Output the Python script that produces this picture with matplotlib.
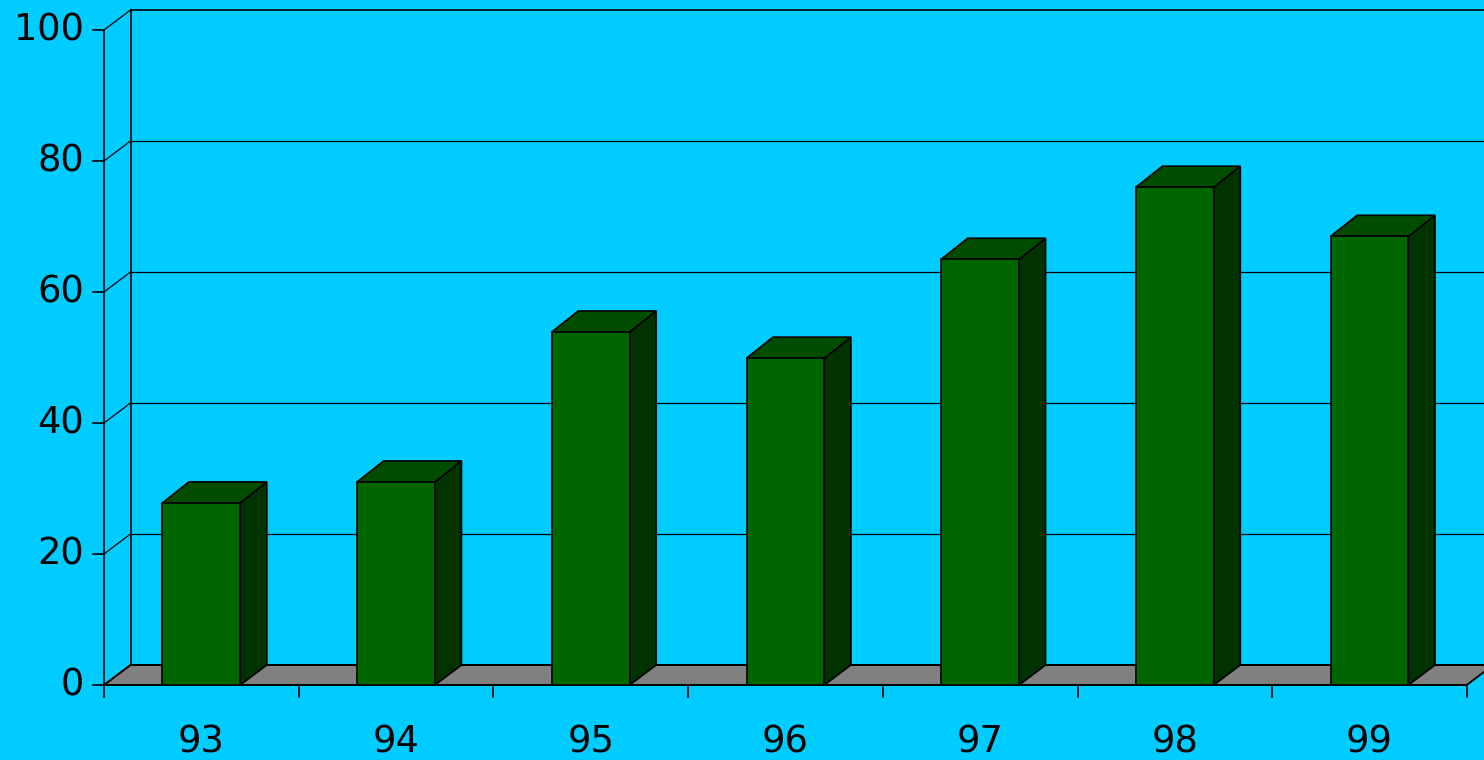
import matplotlib
matplotlib.use("Agg")
import matplotlib.pyplot as plt
from matplotlib.patches import Polygon
import numpy as np

# data
years = ["93", "94", "95", "96", "97", "98", "99"]
values = [27.8, 31.0, 53.9, 49.9, 65.0, 76.0, 68.5]
yticks = [0, 20, 40, 60, 80, 100]

BG = "#00CCFF"
FRONT = "#006600"
SIDE = "#003300"
TOP = "#004D00"
FLOOR = "#808080"

# pixel geometry of the reference (1484x760)
W, H = 1484, 760
x0_px, step_px = 104.0, 194.7      # left edge of axis, width of one category
y0_px, unit_px = 685.0, 6.55       # pixel of value 0, pixels per unit
dx = 26.5 / step_px                # 3d depth in category units
dy = 20.0 / unit_px                # 3d depth in value units
bdy = 21.0 / unit_px               # depth of bar tops
bw = 0.2                           # half width of bar

fig = plt.figure(figsize=(W / 100, H / 100), dpi=100)
fig.patch.set_facecolor(BG)
ax = fig.add_axes([0, 0, 1, 1])
ax.set_facecolor(BG)
ax.axis("off")
# category i is centred at x = i, value v at y = v
ax.set_xlim((0 - x0_px) / step_px - 0.5, (W - x0_px) / step_px - 0.5)
ax.set_ylim((y0_px - H) / unit_px, y0_px / unit_px)

n = len(years)
xl, xr = -0.5, n - 0.5
xr_far = xr + 2  # back wall runs off the right edge

lw = 1.2
# floor
ax.add_patch(Polygon([(xl, 0), (xl + dx, dy), (xr_far, dy), (xr_far, dy), (xr + dx, dy), (xr, 0)],
                     closed=True, facecolor=FLOOR, edgecolor="black", lw=lw, zorder=1))
ax.add_patch(Polygon([(xr, 0), (xr + dx, dy), (xr_far, dy), (xr_far, 0)],
                     closed=True, facecolor=FLOOR, edgecolor="none", zorder=1))
ax.add_patch(Polygon([(xr, 0), (xr + dx, dy), (xr_far, dy + 0.001), (xr_far, -5), (xr, -5)],
                     closed=True, facecolor=BG, edgecolor="none", zorder=1.1))
ax.plot([xl, xr], [0, 0], color="black", lw=lw, zorder=2)
ax.plot([xr, xr + dx], [0, dy], color="black", lw=lw, zorder=2)
ax.plot([xl, xl + dx], [0, dy], color="black", lw=lw, zorder=2)

# back wall, side wall and gridlines
ax.plot([xl + dx, xl + dx], [dy, 100 + dy], color="black", lw=lw, zorder=2)
for t in yticks:
    ax.plot([xl + dx, xr_far], [t + dy, t + dy], color="black", lw=0.9 if 0 < t < 100 else lw, zorder=2)
    ax.plot([xl, xl + dx], [t, t + dy], color="black", lw=0.9, zorder=2)

# front y axis with ticks and labels
ax.plot([xl, xl], [0, 100], color="black", lw=lw, zorder=2)
tick_x = 11 / step_px
for t in yticks:
    ax.plot([xl - tick_x, xl], [t, t], color="black", lw=lw, zorder=2)
    ax.text(xl - 20 / step_px, t, str(t), ha="right", va="center",
            fontsize=26.5, color="black", family="DejaVu Sans")

# x ticks and labels
for b in np.arange(xl, xr + 0.01, 1.0):
    ax.plot([b, b], [0, -12 / unit_px], color="black", lw=lw, zorder=2)
for i, lab in enumerate(years):
    ax.text(i, -57 / unit_px, lab, ha="center", va="center",
            fontsize=26.5, color="black", family="DejaVu Sans")

# 3d bars
for i, v in enumerate(values):
    l, r = i - bw, i + bw
    ax.add_patch(Polygon([(r, 0), (r + dx, dy), (r + dx, v + bdy), (r, v)],
                         closed=True, facecolor=SIDE, edgecolor="black", lw=lw, zorder=3))
    ax.add_patch(Polygon([(l, v), (r, v), (r + dx, v + bdy), (l + dx, v + bdy)],
                         closed=True, facecolor=TOP, edgecolor="black", lw=lw, zorder=3))
    ax.add_patch(Polygon([(l, 0), (r, 0), (r, v), (l, v)],
                         closed=True, facecolor=FRONT, edgecolor="black", lw=lw, zorder=4))

fig.savefig("out.png", dpi=100, facecolor=BG)
